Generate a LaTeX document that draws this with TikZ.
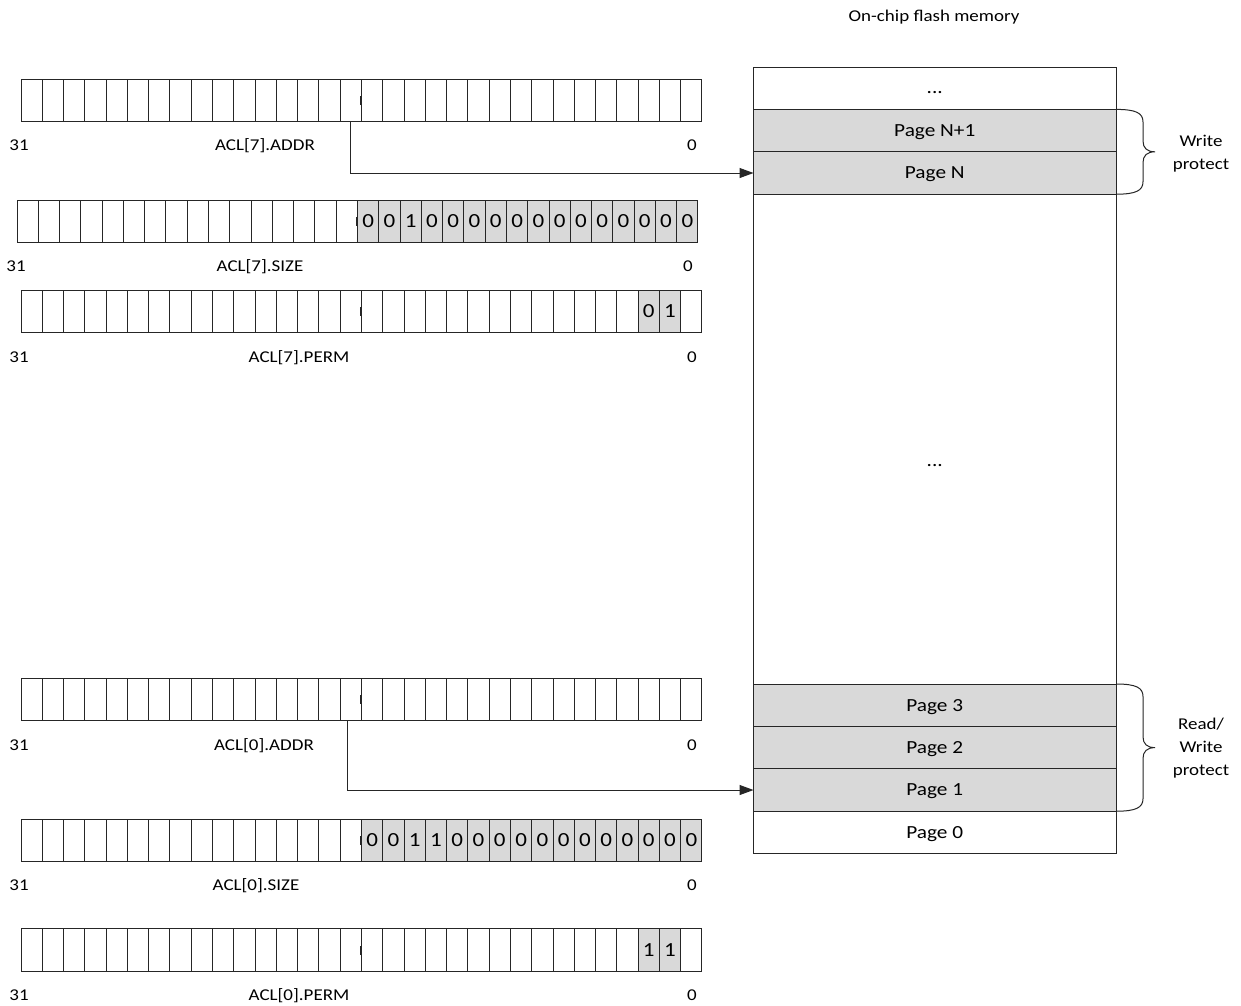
\documentclass[tikz,border=0pt]{standalone}
\usepackage{fontspec}
\setmainfont{Carlito}[FakeStretch=1.15]
\usetikzlibrary{arrows.meta}
\definecolor{shade}{HTML}{D9D9D9}
\definecolor{ln}{HTML}{262626}
\tikzset{
  x=1pt, y=-1pt,
  cell/.style={draw=ln, line width=1pt, minimum width=21.28pt, minimum height=42.6pt,
    inner sep=0pt, outer sep=0pt, font=\fontsize{20}{22}\selectfont},
  shcell/.style={cell, fill=shade},
  lbl/.style={font=\fontsize{16.5}{23}\selectfont, inner sep=0pt, text=black},
  page/.style={draw=ln, line width=1pt, minimum width=362.5pt, minimum height=42.4pt,
    inner sep=0pt, outer sep=0pt, text depth=0pt, font=\fontsize{18.5}{21}\selectfont},
  shpage/.style={page, fill=shade},
  dots/.style={font=\fontsize{18.5}{21}\selectfont, inner sep=0pt, anchor=base},
  conn/.style={draw=ln, line width=1pt, -{Triangle[length=14pt,width=10pt]}},
  bracestyle/.style={draw=ln, line width=1pt},
  tickmark/.style={draw=ln, line width=2pt},
}
\newcommand{\plainrow}[3]{%
  \foreach \i in {0,...,31}{\node[cell,anchor=north west] (#1-\i) at ({#2+\i*21.28},#3) {};}}
\newcommand{\shadedbits}[4]{%
  \foreach \i/\v in {#4}{\node[shcell,anchor=north west] (#1-\i) at ({#2+\i*21.28},#3) {\v};}}
\newcommand{\midtick}[3]{\draw[tickmark] ({#2+16*21.28},{#3+17}) -- ++(0,9);}
\begin{document}
\begin{tikzpicture}
\fill[white] (0,0) rectangle (1241,1005);
\useasboundingbox (0,0) rectangle (1241,1005);

% ---------- ACL[7] ----------
\plainrow{A7A}{21}{79}
\midtick{A7A}{21}{79}
\node[lbl,anchor=base] (A7A31) at (19,150) {31};
\node[lbl,anchor=base] (A7An) at (265,150) {ACL[7].ADDR};
\node[lbl,anchor=base] (A7A0) at (692,150) {0};

\plainrow{A7S}{17}{200}
\shadedbits{A7S}{17}{200}{16/0,17/0,18/1,19/0,20/0,21/0,22/0,23/0,24/0,25/0,26/0,27/0,28/0,29/0,30/0,31/0}
\midtick{A7S}{17}{200}
\node[lbl,anchor=base] (A7S31) at (16,271) {31};
\node[lbl,anchor=base] (A7Sn) at (260,271) {ACL[7].SIZE};
\node[lbl,anchor=base] (A7S0) at (688,271) {0};

\plainrow{A7P}{21}{290}
\shadedbits{A7P}{21}{290}{29/0,30/1}
\midtick{A7P}{21}{290}
\node[lbl,anchor=base] (A7P31) at (19,362) {31};
\node[lbl,anchor=base] (A7Pn) at (299,362) {ACL[7].PERM};
\node[lbl,anchor=base] (A7P0) at (692,362) {0};

% ---------- ACL[0] ----------
\plainrow{A0A}{21}{678.3}
\midtick{A0A}{21}{678.3}
\node[lbl,anchor=base] (A0A31) at (19,750.5) {31};
\node[lbl,anchor=base] (A0An) at (264,750.5) {ACL[0].ADDR};
\node[lbl,anchor=base] (A0A0) at (692,750.5) {0};

\plainrow{A0S}{21}{819}
\shadedbits{A0S}{21}{819}{16/0,17/0,18/1,19/1,20/0,21/0,22/0,23/0,24/0,25/0,26/0,27/0,28/0,29/0,30/0,31/0}
\midtick{A0S}{21}{819}
\node[lbl,anchor=base] (A0S31) at (19,890.5) {31};
\node[lbl,anchor=base] (A0Sn) at (256,890.5) {ACL[0].SIZE};
\node[lbl,anchor=base] (A0S0) at (692,890.5) {0};

\plainrow{A0P}{21}{928.5}
\shadedbits{A0P}{21}{928.5}{29/1,30/1}
\midtick{A0P}{21}{928.5}
\node[lbl,anchor=base] (A0P31) at (19,1000.5) {31};
\node[lbl,anchor=base] (A0Pn) at (299,1000.5) {ACL[0].PERM};
\node[lbl,anchor=base] (A0P0) at (692,1000.5) {0};

% ---------- flash memory ----------
\node[lbl] (title) at (934,17) {On-chip flash memory};
\node[page,anchor=north west] (mtop) at (753.5,67) {};
\node[dots] (tdots) at (934.75,93) {...};
\node[shpage,anchor=north] (pN1) at (mtop.south) {Page N+1};
\node[shpage,anchor=north] (pN) at (pN1.south) {Page N};
\node[page,anchor=north,minimum height=489.8pt] (mmid) at (pN.south) {};
\node[dots] (mdots) at (934.75,466) {...};
\node[shpage,anchor=north] (p3) at (mmid.south) {Page 3};
\node[shpage,anchor=north] (p2) at (p3.south) {Page 2};
\node[shpage,anchor=north] (p1) at (p2.south) {Page 1};
\node[page,anchor=north] (p0) at (p1.south) {Page 0};

% ---------- arrows ----------
\draw[conn] (A7A-15.south) |- (pN.west);
\draw[conn] ([xshift=-3pt]A0A-15.south) |- (p1.west);

% ---------- braces ----------
\draw[bracestyle] (pN1.north east) .. controls +(20,0) and +(0,-9) .. ++(27,12.6)
  -- ++(0,19) .. controls +(0,7) and +(-8,0) .. ++(12,10.8)
  .. controls +(-8,0) and +(0,-7) .. ++(-12,10.8)
  -- ++(0,19) .. controls +(0,9) and +(20,0) .. ++(-27,12.6);
\node[lbl,align=center] (wp) at (1201,153.5) {Write\\protect};

\draw[bracestyle] (p3.north east) .. controls +(20,0) and +(0,-9) .. ++(27,12.6)
  -- ++(0,40.2) .. controls +(0,7) and +(-8,0) .. ++(12,10.8)
  .. controls +(-8,0) and +(0,-7) .. ++(-12,10.8)
  -- ++(0,40.2) .. controls +(0,9) and +(20,0) .. ++(-27,12.6);
\node[lbl,align=center] (rwp) at (1201,748) {Read/\\Write\\protect};
\end{tikzpicture}
\end{document}
